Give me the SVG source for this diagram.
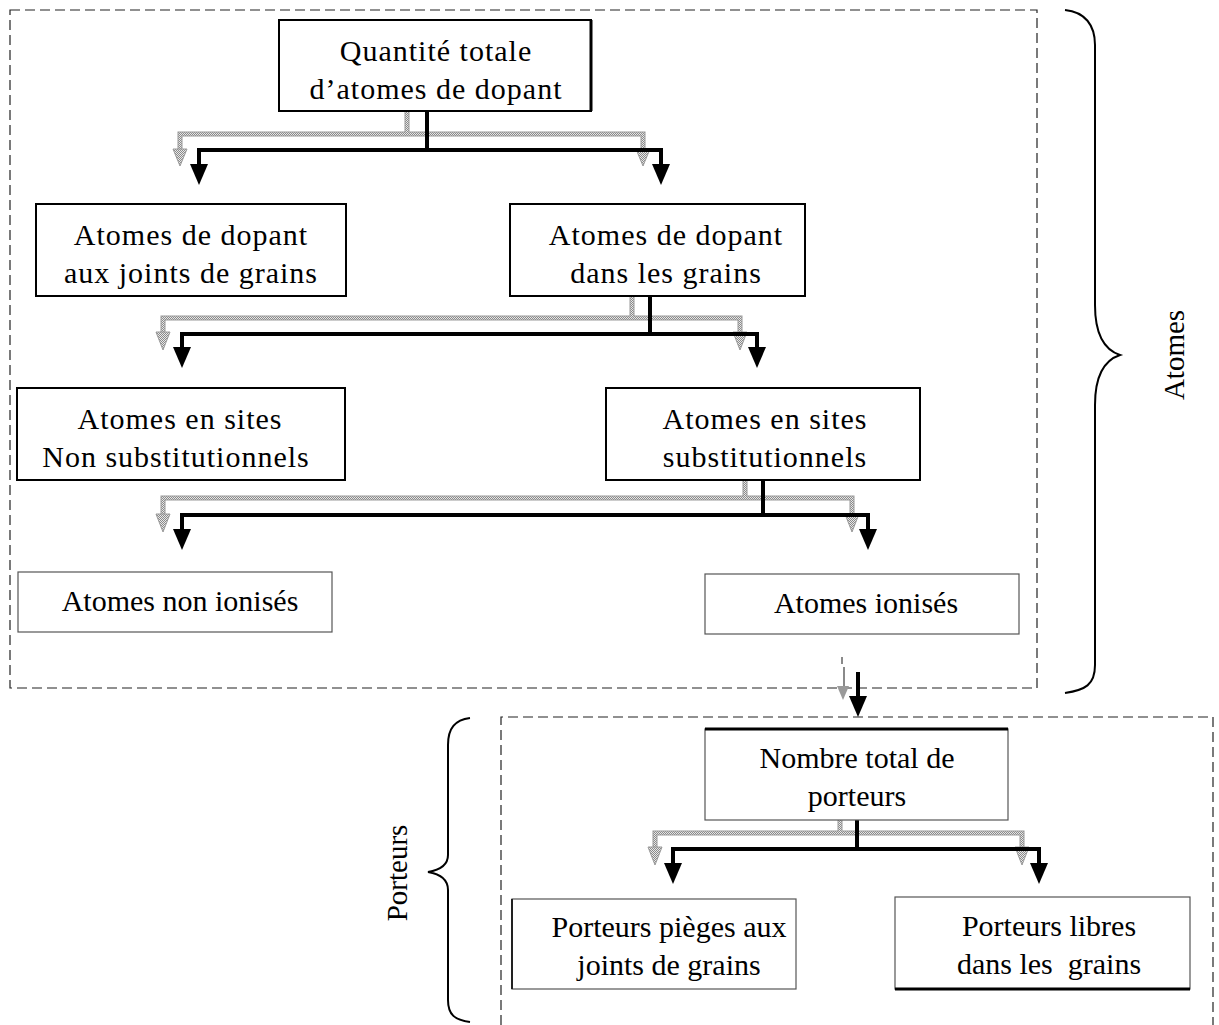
<svg xmlns="http://www.w3.org/2000/svg" width="1219" height="1025" viewBox="0 0 1219 1025">
<style>
  text { font-family: "Liberation Serif", "Times New Roman", serif; font-size: 30px; letter-spacing: 1px; fill: #000; text-anchor: middle; }
  text.side { font-size: 29px; letter-spacing: 0; }
  text.tight { letter-spacing: 0; }
  .box { fill: #fff; stroke: #000; stroke-width: 2; }
  .thin { fill: #fff; stroke: #555; stroke-width: 1.2; }
  .frame { fill: none; stroke: #222; stroke-width: 1.2; stroke-dasharray: 10 5; }
  .blk { fill: none; stroke: #000; stroke-width: 4; stroke-linejoin: miter; }
  .gry1 { fill: none; stroke: #9a9a9a; stroke-width: 5; }
  .gry2 { fill: none; stroke: url(#dith); stroke-width: 3; }
  .head { fill: #000; }
  .ghead { fill: url(#dith); stroke: #9a9a9a; stroke-width: 1; }
  .brace { fill: none; stroke: #000; stroke-width: 2; }
</style>
<defs>
  <pattern id="dith" width="2" height="2" patternUnits="userSpaceOnUse">
    <rect width="2" height="2" fill="#e8e8e8"/>
    <rect width="1" height="1" fill="#8a8a8a"/>
    <rect x="1" y="1" width="1" height="1" fill="#8a8a8a"/>
  </pattern>
</defs>
<rect width="1219" height="1025" fill="#fff"/>

<g id="frames">
  <rect class="frame" x="10" y="10" width="1027" height="678"/>
  <path class="frame" d="M501,1025 V717 H1213 V1025"/>
</g>

<g id="braces">
  <path class="brace" d="M1065,10 C1085,12 1095,25 1095,45 V305 C1095,335 1105,350 1120,355 C1105,360 1095,375 1095,405 V665 C1095,685 1085,690 1065,693"/>
  <text class="side" transform="translate(1184,355) rotate(-90)">Atomes</text>
  <path class="brace" d="M470,718 C455,720 448,728 448,745 V855 C448,865 440,870 428,872 C440,874 448,880 448,890 V1000 C448,1015 455,1020 470,1022"/>
  <text class="side" transform="translate(407,873) rotate(-90)">Porteurs</text>
</g>

<g id="connectors">
  <g id="shadow">
    <path class="gry1" d="M407,97 V134 M180,150 V134 H643 V150"/>
    <path class="gry2" d="M407,97 V134 M180,150 V134 H643 V150"/>
    <polygon class="ghead" points="173,149 187,149 180,166"/>
    <polygon class="ghead" points="636,149 650,149 643,166"/>

    <path class="gry1" d="M632,280 V318 M163,333 V318 H740 V333"/>
    <path class="gry2" d="M632,280 V318 M163,333 V318 H740 V333"/>
    <polygon class="ghead" points="156,332 170,332 163,350"/>
    <polygon class="ghead" points="733,332 747,332 740,350"/>

    <path class="gry1" d="M745,467 V498 M163,515 V498 H852 V515"/>
    <path class="gry2" d="M745,467 V498 M163,515 V498 H852 V515"/>
    <polygon class="ghead" points="156,514 170,514 163,532"/>
    <polygon class="ghead" points="845,514 859,514 852,532"/>

    <path fill="none" stroke="#8a8a8a" stroke-width="2" d="M842,657 V664 M844,667 V686"/>
    <polygon fill="#9a9a9a" points="837,686 849,686 843,700"/>

    <path class="gry1" d="M840,806 V833 M655,848 V833 H1022 V848"/>
    <path class="gry2" d="M840,806 V833 M655,848 V833 H1022 V848"/>
    <polygon class="ghead" points="648,847 662,847 655,865"/>
    <polygon class="ghead" points="1015,847 1029,847 1022,865"/>
  </g>
  <g id="main">
    <path class="blk" d="M427,112 V150 M199,167 V150 H661 V167"/>
    <polygon class="head" points="190,164 208,164 199,185"/>
    <polygon class="head" points="652,164 670,164 661,185"/>

    <path class="blk" d="M650,296 V334 M182,350 V334 H757 V350"/>
    <polygon class="head" points="173,347 191,347 182,368"/>
    <polygon class="head" points="748,347 766,347 757,368"/>

    <path class="blk" d="M763,481 V515 M182,532 V515 H868 V532"/>
    <polygon class="head" points="173,529 191,529 182,550"/>
    <polygon class="head" points="859,529 877,529 868,550"/>

    <path class="blk" d="M858,672 V698"/>
    <polygon class="head" points="849,696 867,696 858,717"/>

    <path class="blk" d="M857,820 V849 M673,866 V849 H1039 V866"/>
    <polygon class="head" points="664,863 682,863 673,884"/>
    <polygon class="head" points="1030,863 1048,863 1039,884"/>
  </g>
</g>

<g id="n-total-dopant">
  <rect class="box" x="279" y="20" width="312" height="91"/>
  <line x1="591" y1="20" x2="591" y2="111" stroke="#000" stroke-width="3"/>
  <text x="436" y="61">Quantité totale</text>
  <text x="436" y="99">d’atomes de dopant</text>
</g>

<g id="n-joints">
  <rect class="box" x="36" y="204" width="310" height="92"/>
  <text x="191" y="245">Atomes de dopant</text>
  <text x="191" y="283">aux joints de grains</text>
</g>

<g id="n-grains">
  <rect class="box" x="510" y="204" width="295" height="92"/>
  <text x="666" y="245">Atomes de dopant</text>
  <text x="666" y="283">dans les grains</text>
</g>

<g id="n-non-subst">
  <rect class="box" x="17" y="388" width="328" height="92"/>
  <text x="180" y="429">Atomes en sites</text>
  <text x="176" y="467">Non substitutionnels</text>
</g>

<g id="n-subst">
  <rect class="box" x="606" y="388" width="314" height="92"/>
  <text x="765" y="429">Atomes en sites</text>
  <text x="765" y="467">substitutionnels</text>
</g>

<g id="n-non-ionises">
  <rect class="thin" x="18" y="572" width="314" height="60"/>
  <text class="tight" x="180" y="611">Atomes non ionisés</text>
</g>

<g id="n-ionises">
  <rect class="thin" x="705" y="574" width="314" height="60"/>
  <text class="tight" x="866" y="613">Atomes ionisés</text>
</g>

<g id="n-porteurs-total">
  <rect class="thin" x="705" y="729" width="303" height="91"/>
  <line x1="705" y1="729" x2="1008" y2="729" stroke="#000" stroke-width="3"/>
  <text class="tight" x="857" y="768">Nombre total de</text>
  <text class="tight" x="857" y="806">porteurs</text>
</g>

<g id="n-pieges">
  <rect class="thin" x="512" y="899" width="284" height="90"/>
  <line x1="512" y1="899" x2="512" y2="989" stroke="#222" stroke-width="2"/>
  <text class="tight" x="669" y="937">Porteurs pièges aux</text>
  <text class="tight" x="669" y="975">joints de grains</text>
</g>

<g id="n-libres">
  <rect class="thin" x="895" y="897" width="295" height="92"/>
  <line x1="895" y1="989" x2="1190" y2="989" stroke="#000" stroke-width="3"/>
  <text class="tight" x="1049" y="936">Porteurs libres</text>
  <text class="tight" x="1049" y="974" xml:space="preserve">dans les  grains</text>
</g>
</svg>
